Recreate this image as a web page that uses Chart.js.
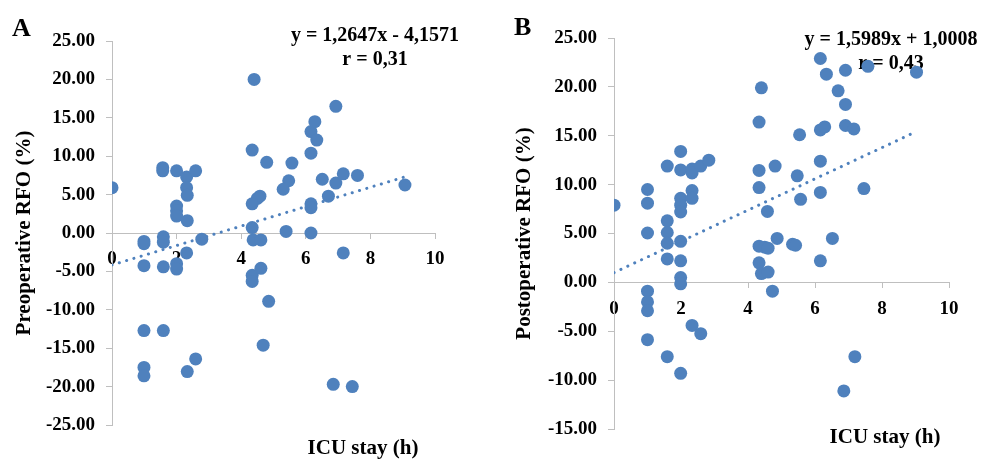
<!DOCTYPE html>
<html>
<head>
<meta charset="utf-8">
<script src="https://cdn.jsdelivr.net/npm/chart.js@4.4.1/dist/chart.umd.min.js"></script>
<style>
  html, body { margin: 0; padding: 0; background: #fff; }
  #wrap { position: relative; width: 992px; height: 459px; }
  canvas { position: absolute; top: 0; }
  #chartA { left: 0; }
  #chartB { left: 496px; }
</style>
</head>
<body>
<div id="wrap">
  <canvas id="chartA" width="496" height="459"></canvas>
  <canvas id="chartB" width="496" height="459"></canvas>
</div>
<script>
// Panel A: ICU stay vs preoperative RFO
const icuA = [0, 1.57, 1.57, 2.0, 2.31, 2.59, 2.31, 2.33, 2.0, 2.0, 2.0, 2.33,
  4.4, 4.34, 4.79, 5.57, 5.47, 5.3, 4.58, 4.5, 4.34,
  6.16, 6.28, 6.34, 6.16, 6.93, 6.51, 6.93, 7.16, 7.6, 6.7, 6.16, 6.16, 9.07,
  4.34, 5.39, 6.16, 0.99, 0.99, 1.59, 1.59, 2.78, 2.31, 2.0, 2.0, 0.99, 1.59,
  4.37, 4.61, 4.34, 4.34, 4.61, 4.85, 0.99, 1.59, 4.68, 2.59, 2.33, 0.99, 0.99,
  6.85, 7.44, 7.16];
const rfoPre = [5.9, 8.5, 8.1, 8.1, 7.3, 8.1, 5.9, 4.9, 3.5, 2.9, 2.2, 1.6,
  20.0, 10.8, 9.2, 9.1, 6.8, 5.7, 4.8, 4.5, 3.8,
  13.2, 14.5, 12.1, 10.4, 16.5, 7.0, 6.5, 7.7, 7.5, 4.8, 3.8, 3.3, 6.25,
  0.7, 0.2, 0.0, -1.1, -1.4, -0.5, -1.2, -0.8, -2.6, -4.0, -4.7, -4.25, -4.4,
  -0.9, -0.9, -5.5, -6.3, -4.6, -8.9, -12.7, -12.7, -14.6, -16.4, -18.05, -17.5, -18.6,
  -19.7, -20.0, -2.6];
const trendAx = [0, 9.07];
const trendAy = [-4.16, 7.31];

// Panel B: ICU stay vs postoperative RFO
const icuB = [0, 1.0, 1.0, 1.59, 1.59, 1.99, 1.99, 1.99, 1.99, 1.99,
  2.33, 2.33, 2.33, 2.33, 2.59, 2.83, 4.4, 4.33, 4.33, 4.33, 4.58, 4.81,
  5.47, 5.54, 5.57, 6.16, 6.34, 6.16, 6.29, 6.16, 6.16,
  6.69, 6.91, 6.91, 6.91, 7.16, 7.46, 7.58, 9.03,
  1.0, 1.0, 1.0, 1.0, 1.0, 1.59, 1.59, 1.59, 1.59,
  1.99, 1.99, 1.99, 1.99, 1.99, 2.33, 2.59,
  4.33, 4.5, 4.6, 4.33, 4.4, 4.6, 4.73, 4.87, 5.33, 5.42, 6.16, 6.52, 6.86, 7.19];
const rfoPost = [7.9, 9.5, 8.1, 11.9, 6.3, 13.4, 11.5, 8.6, 7.9, 7.2,
  11.6, 11.2, 9.4, 8.6, 11.9, 12.5, 19.9, 16.4, 11.45, 9.7, 7.26, 11.9,
  10.9, 15.1, 8.5, 22.9, 21.3, 15.6, 15.9, 12.4, 9.2,
  19.6, 21.7, 18.2, 16.05, 15.7, 9.6, 22.1, 21.5,
  5.05, -0.9, -2.0, -2.9, -5.86, 5.1, 4.0, 2.4, -7.6,
  4.2, 2.2, 0.5, -0.15, -9.3, -4.4, -5.25,
  3.7, 3.6, 3.5, 2.0, 0.9, 1.05, -0.9, 4.5, 3.9, 3.8, 2.2, 4.5, -11.1, -7.6];
const trendBx = [0, 8.97];
const trendBy = [1.0, 15.34];

const xTicks = [0, 2, 4, 6, 8, 10];

const serif = "'Times New Roman', 'Liberation Serif', serif";
const blue = '#4F81BD';
const axisGray = '#BFBFBF';
Chart.defaults.font.family = serif;

const panelText = {
  id: 'panelText',
  beforeDatasetsDraw(chart, args, o) {
    const ctx = chart.ctx;
    ctx.save();
    ctx.fillStyle = '#000';
    ctx.textBaseline = 'alphabetic';
    ctx.textAlign = 'center';
    ctx.font = 'bold 20px ' + serif;
    ctx.fillText(o.eq, o.eqX, o.eqY);
    ctx.fillText(o.r, o.eqX, o.eqY + 24);
    ctx.font = 'bold 21px ' + serif;
    ctx.fillText(o.xTitle, o.titleX, o.titleY);
    ctx.textAlign = 'left';
    ctx.font = 'bold 26px ' + serif;
    ctx.fillText(o.letter, o.letterX, o.letterY);
    ctx.restore();
  }
};

function zip(xs, ys) {
  return xs.map((x, i) => ({ x: x, y: ys[i] }));
}

function makeChart(id, xs, ys, tx, ty, s) {
  return new Chart(document.getElementById(id), {
    type: 'scatter',
    data: {
      datasets: [{
        type: 'line',
        data: zip(tx, ty),
        borderColor: blue,
        borderWidth: 3,
        borderDash: [0.1, 7.5],
        borderCapStyle: 'round',
        pointRadius: 0,
        fill: false,
        order: 0
      }, {
        data: zip(xs, ys),
        backgroundColor: blue,
        borderColor: blue,
        pointRadius: 6.5,
        borderWidth: 0,
        order: 1
      }]
    },
    options: {
      responsive: false,
      animation: false,
      layout: { padding: s.pad },
      plugins: {
        legend: { display: false },
        tooltip: { enabled: false },
        panelText: s.text
      },
      scales: {
        x: {
          type: 'linear',
          position: { y: 0 },
          min: 0, max: 10,
          afterBuildTicks: sc => { sc.ticks = xTicks.map(v => ({ value: v })); },
          ticks: { padding: 10, color: '#000', font: { size: 19, weight: 'bold' } },
          grid: { drawOnChartArea: false, tickLength: 5, color: axisGray },
          border: { color: axisGray }
        },
        y: {
          position: 'left',
          min: s.yMin, max: 25,
          afterFit: sc => { sc.width = s.yWidth; },
          ticks: {
            stepSize: 5, padding: 11, color: '#000',
            font: { size: 19, weight: 'bold' },
            callback: v => v.toFixed(2)
          },
          grid: { drawOnChartArea: false, tickLength: 6, color: axisGray },
          border: { color: axisGray },
          title: {
            display: true, text: s.yTitle, color: '#000',
            font: { size: 21, weight: 'bold' },
            padding: { top: s.titlePad, bottom: 0 }
          }
        }
      }
    },
    plugins: [panelText]
  });
}

makeChart('chartA', icuA, rfoPre, trendAx, trendAy, {
  pad: { left: 0, right: 61, top: 41, bottom: 34 },
  yMin: -25, yWidth: 112, titlePad: 12,
  yTitle: 'Preoperative RFO (%)',
  text: {
    eq: 'y = 1,2647x - 4,1571', r: 'r = 0,31', eqX: 375, eqY: 41,
    xTitle: 'ICU stay (h)', titleX: 363, titleY: 454,
    letter: 'A', letterX: 12, letterY: 36
  }
});

makeChart('chartB', icuB, rfoPost, trendBx, trendBy, {
  pad: { left: 0, right: 43, top: 38, bottom: 30 },
  yMin: -15, yWidth: 118, titlePad: 16,
  yTitle: 'Postoperative RFO (%)',
  text: {
    eq: 'y = 1,5989x + 1,0008', r: 'r = 0,43', eqX: 395, eqY: 45,
    xTitle: 'ICU stay (h)', titleX: 389, titleY: 443,
    letter: 'B', letterX: 18, letterY: 35
  }
});
</script>
</body>
</html>
